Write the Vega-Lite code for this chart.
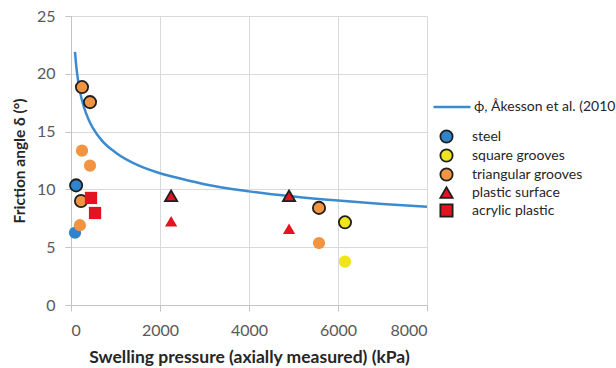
{
  "$schema": "https://vega.github.io/schema/vega-lite/v6.json",
  "width": 356,
  "height": 289,
  "autosize": {"type": "none"},
  "padding": {"left": 71, "top": 16, "right": 189, "bottom": 63},
  "background": "white",
  "config": {
    "font": "Lato",
    "view": {"stroke": null},
    "axis": {
      "gridColor": "#d9d9d9",
      "gridWidth": 1,
      "domainColor": "#c4c4c4",
      "tickColor": "#c4c4c4",
      "labelColor": "#595959",
      "labelFont": "Lato",
      "labelFontSize": 16,
      "titleFont": "Lato",
      "titleFontWeight": "bold",
      "titleColor": "#262626",
      "tickSize": 6
    },
    "legend": {"labelFont": "Lato", "labelFontSize": 14, "labelColor": "#262626", "labelLimit": 400}
  },
  "datasets": {
    "curve": [
      {"series": "ϕ, Åkesson et al. (2010)", "p": 90, "phi": 21.9},
      {"series": "ϕ, Åkesson et al. (2010)", "p": 120, "phi": 20.6},
      {"series": "ϕ, Åkesson et al. (2010)", "p": 160, "phi": 19.4},
      {"series": "ϕ, Åkesson et al. (2010)", "p": 200, "phi": 18.5},
      {"series": "ϕ, Åkesson et al. (2010)", "p": 300, "phi": 17.0},
      {"series": "ϕ, Åkesson et al. (2010)", "p": 400, "phi": 16.0},
      {"series": "ϕ, Åkesson et al. (2010)", "p": 500, "phi": 15.25},
      {"series": "ϕ, Åkesson et al. (2010)", "p": 700, "phi": 14.2},
      {"series": "ϕ, Åkesson et al. (2010)", "p": 1000, "phi": 13.2},
      {"series": "ϕ, Åkesson et al. (2010)", "p": 1500, "phi": 12.1},
      {"series": "ϕ, Åkesson et al. (2010)", "p": 2000, "phi": 11.4},
      {"series": "ϕ, Åkesson et al. (2010)", "p": 2500, "phi": 10.9},
      {"series": "ϕ, Åkesson et al. (2010)", "p": 3000, "phi": 10.45},
      {"series": "ϕ, Åkesson et al. (2010)", "p": 4000, "phi": 9.83},
      {"series": "ϕ, Åkesson et al. (2010)", "p": 5000, "phi": 9.38},
      {"series": "ϕ, Åkesson et al. (2010)", "p": 6000, "phi": 9.03},
      {"series": "ϕ, Åkesson et al. (2010)", "p": 7000, "phi": 8.74},
      {"series": "ϕ, Åkesson et al. (2010)", "p": 8000, "phi": 8.5}
    ],
    "points": [
      {"series": "steel", "p": 115, "phi": 10.35, "kind": "peak"},
      {"series": "steel", "p": 90, "phi": 6.25, "kind": "residual"},
      {"series": "square grooves", "p": 6157, "phi": 7.15, "kind": "peak"},
      {"series": "square grooves", "p": 6157, "phi": 3.75, "kind": "residual"},
      {"series": "triangular grooves", "p": 247, "phi": 18.85, "kind": "peak"},
      {"series": "triangular grooves", "p": 427, "phi": 17.55, "kind": "peak"},
      {"series": "triangular grooves", "p": 247, "phi": 13.35, "kind": "residual"},
      {"series": "triangular grooves", "p": 427, "phi": 12.05, "kind": "residual"},
      {"series": "triangular grooves", "p": 225, "phi": 9.0, "kind": "peak"},
      {"series": "triangular grooves", "p": 200, "phi": 6.9, "kind": "residual"},
      {"series": "triangular grooves", "p": 5573, "phi": 8.4, "kind": "peak"},
      {"series": "triangular grooves", "p": 5573, "phi": 5.36, "kind": "residual"},
      {"series": "plastic surface", "p": 2250, "phi": 9.45, "kind": "peak"},
      {"series": "plastic surface", "p": 2250, "phi": 7.25, "kind": "residual"},
      {"series": "plastic surface", "p": 4900, "phi": 9.45, "kind": "peak"},
      {"series": "plastic surface", "p": 4900, "phi": 6.6, "kind": "residual"},
      {"series": "acrylic plastic", "p": 450, "phi": 9.26, "kind": "residual"},
      {"series": "acrylic plastic", "p": 540, "phi": 7.96, "kind": "residual"}
    ]
  },
  "layer": [
    {
      "data": {"name": "curve"},
      "mark": {"type": "line", "strokeWidth": 2.5, "interpolate": "monotone"},
      "encoding": {
        "x": {
          "field": "p", "type": "quantitative",
          "scale": {"domain": [0, 8000], "nice": false},
          "axis": {"values": [0, 2000, 4000, 6000, 8000], "title": "Swelling pressure (axially measured) (kPa)", "titleFontSize": 17.5, "labelPadding": 11, "titlePadding": 10, "format": "d"}
        },
        "y": {
          "field": "phi", "type": "quantitative",
          "scale": {"domain": [0, 25], "nice": false},
          "axis": {"values": [0, 5, 10, 15, 20, 25], "title": "Friction angle δ (°)", "titleFontSize": 15.5, "labelPadding": 10, "titlePadding": 9}
        },
        "color": {
          "field": "series", "type": "nominal",
          "scale": {"range": ["#3a8bd0"]},
          "legend": {
            "orient": "none", "legendX": 361, "legendY": 71, "title": null,
            "symbolType": "stroke", "symbolSize": 1369, "symbolStrokeWidth": 2.5,
            "labelOffset": 2
          }
        }
      }
    },
    {
      "data": {"name": "points"},
      "transform": [{"filter": "datum.kind === 'peak'"}],
      "mark": {"type": "point", "filled": true, "opacity": 1, "size": 150, "strokeWidth": 1.8},
      "encoding": {
        "x": {"field": "p", "type": "quantitative"},
        "y": {"field": "phi", "type": "quantitative"},
        "fill": {
          "field": "series", "type": "nominal",
          "scale": {
            "domain": ["steel", "square grooves", "triangular grooves", "plastic surface", "acrylic plastic"],
            "range": ["#2f84cc", "#f0e41a", "#f39443", "#e3131f", "#e3131f"]
          },
          "legend": {
            "orient": "none", "legendX": 368, "legendY": 113, "title": null,
            "symbolSize": 150, "labelOffset": 18, "rowPadding": -2,
            "symbolStrokeColor": "#1f1f1f", "symbolStrokeWidth": 1.8
          }
        },
        "shape": {
          "field": "series", "type": "nominal",
          "scale": {
            "domain": ["steel", "square grooves", "triangular grooves", "plastic surface", "acrylic plastic"],
            "range": ["circle", "circle", "circle", "triangle-up", "square"]
          },
          "legend": {
            "orient": "none", "legendX": 368, "legendY": 113, "title": null,
            "symbolSize": 150, "labelOffset": 18, "rowPadding": -2,
            "symbolStrokeColor": "#1f1f1f", "symbolStrokeWidth": 1.8
          }
        },
        "stroke": {
          "field": "series", "type": "nominal",
          "scale": {
            "domain": ["steel", "square grooves", "triangular grooves", "plastic surface", "acrylic plastic"],
            "range": ["#1f1f1f", "#1f1f1f", "#1f1f1f", "#1f1f1f", "#1f1f1f"]
          },
          "legend": {
            "orient": "none", "legendX": 368, "legendY": 113, "title": null,
            "symbolSize": 150, "labelOffset": 18, "rowPadding": -2,
            "symbolStrokeColor": "#1f1f1f", "symbolStrokeWidth": 1.8
          }
        }
      }
    },
    {
      "data": {"name": "points"},
      "transform": [{"filter": "datum.kind === 'residual'"}],
      "mark": {"type": "point", "filled": true, "opacity": 1, "size": 150, "strokeWidth": 0},
      "encoding": {
        "x": {"field": "p", "type": "quantitative"},
        "y": {"field": "phi", "type": "quantitative"},
        "fill": {"field": "series", "type": "nominal"},
        "shape": {"field": "series", "type": "nominal"}
      }
    }
  ]
}
